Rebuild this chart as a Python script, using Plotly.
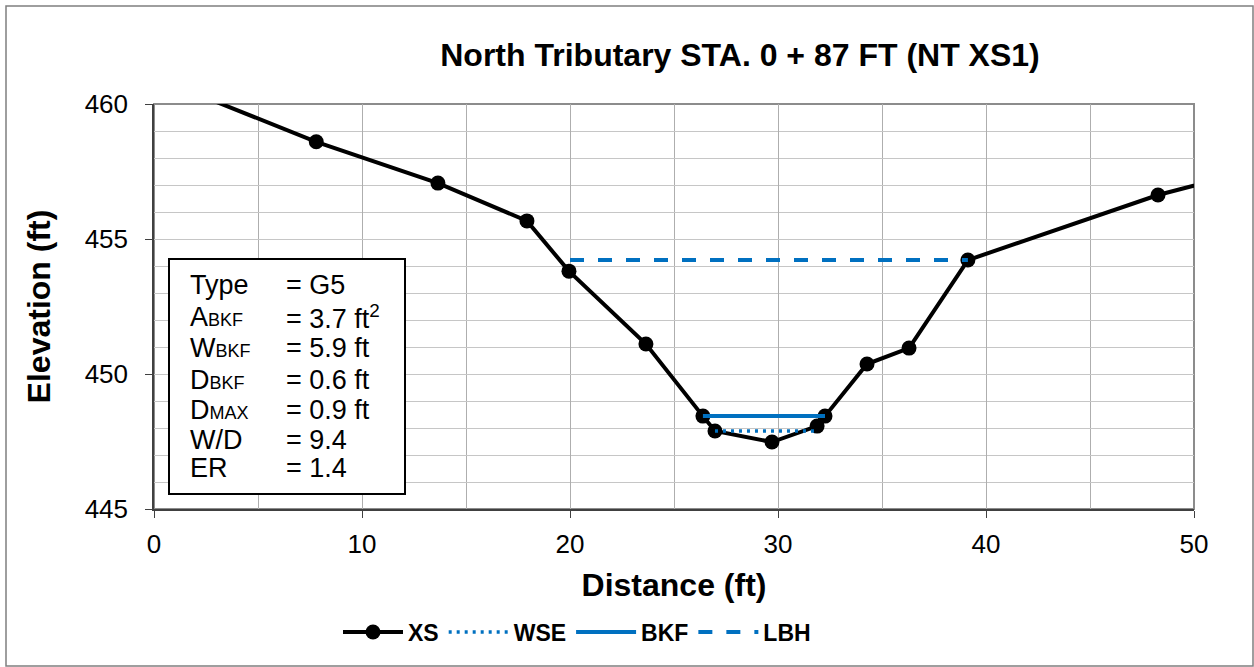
import plotly.graph_objects as go

# Surveyed cross-section (station, elevation)
xs_station = [0.0, 7.8, 13.65, 17.93, 19.95, 23.65, 26.39, 26.97, 29.71, 31.88, 32.26, 34.28, 36.30, 39.13, 48.27, 52.0]
xs_elev = [461.0, 458.6, 457.07, 455.67, 453.81, 451.11, 448.44, 447.89, 447.48, 448.07, 448.44, 450.37, 450.96, 454.22, 456.63, 457.38]

# Water surface, bankfull and low bank height lines
wse_station = [26.97, 31.88]
wse_elev = [447.89, 447.89]
bkf_station = [26.39, 32.26]
bkf_elev = [448.44, 448.44]
lbh_station = [20.0, 39.13]
lbh_elev = [454.22, 454.22]

# Summary table
stat_names = ["Type", "A<span style='font-size:18px'>BKF</span>", "W<span style='font-size:18px'>BKF</span>",
              "D<span style='font-size:18px'>BKF</span>", "D<span style='font-size:18px'>MAX</span>", "W/D", "ER"]
stat_values = ["= G5", "= 3.7 ft<sup style='font-size:17px'>2</sup>", "= 5.9 ft", "= 0.6 ft", "= 0.9 ft", "= 9.4", "= 1.4"]

FONT = "Liberation Sans, Arial, sans-serif"
BLUE = "#0070C0"

fig = go.Figure()
fig.add_trace(go.Scatter(x=xs_station, y=xs_elev, name="XS", mode="lines+markers",
                         line=dict(color="black", width=4),
                         marker=dict(color="black", size=15)))
fig.add_trace(go.Scatter(x=wse_station, y=wse_elev, name="WSE", mode="lines",
                         line=dict(color=BLUE, width=3.5, dash="3px,5px")))
fig.add_trace(go.Scatter(x=bkf_station, y=bkf_elev, name="BKF", mode="lines",
                         line=dict(color=BLUE, width=4)))
fig.add_trace(go.Scatter(x=lbh_station, y=lbh_elev, name="LBH", mode="lines",
                         line=dict(color=BLUE, width=4, dash="14px,14px")))

L, R, T, B = 154, 60, 104, 158
W, H = 1254, 667
pw, ph = W - L - R, H - T - B

def px(xp):
    return (xp - L) / pw

def py(yp):
    return (H - B - yp) / ph

annotations = []
row_y = [285, 317, 348, 380, 410, 440, 468]
for name, val, yp in zip(stat_names, stat_values, row_y):
    annotations.append(dict(x=px(188), y=py(yp), xref="paper", yref="paper", text=name,
                            showarrow=False, xanchor="left", yanchor="middle",
                            font=dict(family=FONT, size=27, color="black")))
    annotations.append(dict(x=px(284), y=py(yp), xref="paper", yref="paper", text=val,
                            showarrow=False, xanchor="left", yanchor="middle",
                            font=dict(family=FONT, size=27, color="black")))

shapes = [
    dict(type="rect", xref="paper", yref="paper", x0=px(169), x1=px(405), y0=py(494), y1=py(259),
         line=dict(color="black", width=2), fillcolor="white", layer="above"),
    dict(type="rect", xref="paper", yref="paper", x0=0, x1=1, y0=0, y1=1,
         line=dict(color="#8c8c8c", width=2), layer="below"),
    dict(type="rect", xref="paper", yref="paper", x0=px(6), x1=px(1253), y0=py(666), y1=py(6),
         line=dict(color="#7f7f7f", width=1.5), layer="below"),
]

fig.update_layout(
    width=W, height=H,
    margin=dict(l=L, r=R, t=T, b=B),
    paper_bgcolor="white", plot_bgcolor="white",
    font=dict(family=FONT, color="black"),
    title=dict(text="<b>North Tributary STA. 0 + 87 FT (NT XS1)</b>", xref="container", x=740 / W,
               xanchor="center", yref="container", y=1 - 55 / H, yanchor="middle",
               font=dict(family=FONT, size=32, color="black")),
    showlegend=True,
    legend=dict(orientation="h", x=px(338), y=py(632), xanchor="left", yanchor="middle",
                font=dict(family=FONT, size=23, color="black", weight="bold"),
                itemwidth=60, tracegroupgap=0),
    annotations=annotations,
    shapes=shapes,
)
fig.update_xaxes(range=[0, 50], dtick=10, tick0=0, ticks="outside", ticklen=7, tickcolor="#404040",
                 showline=True, linecolor="#404040", linewidth=1.5,
                 showgrid=True, gridcolor="#aeaeae", gridwidth=1,
                 minor=dict(dtick=5, showgrid=True, gridcolor="#aeaeae", gridwidth=1),
                 tickfont=dict(family=FONT, size=26, color="black"), ticklabelstandoff=4,
                 title=dict(text="<b>Distance (ft)</b>", font=dict(family=FONT, size=32, color="black"),
                            standoff=16),
                 zeroline=False)
fig.update_yaxes(range=[445, 460], dtick=5, tick0=445, ticks="outside", ticklen=7, tickcolor="#404040",
                 showline=True, linecolor="#404040", linewidth=1.5,
                 showgrid=True, gridcolor="#c6c6c6", gridwidth=1,
                 minor=dict(dtick=1, showgrid=True, gridcolor="#c6c6c6", gridwidth=1),
                 tickfont=dict(family=FONT, size=26, color="black"), ticklabelstandoff=12,
                 title=dict(text="<b>Elevation (ft)</b>", font=dict(family=FONT, size=32, color="black"),
                            standoff=24),
                 zeroline=False)

fig.write_html("out.html")
